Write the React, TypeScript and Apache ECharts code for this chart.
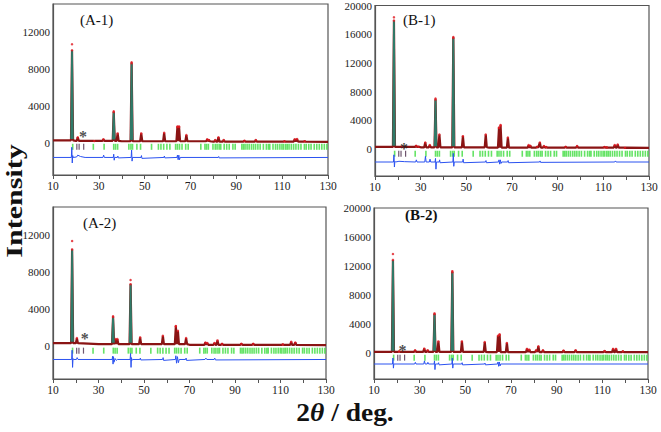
import React, { useEffect, useRef } from "react";
import * as echarts from "echarts";

// ---------- data ----------
const xTickLabels = [10, 30, 50, 70, 90, 110, 130];
const yTicksA = [0, 4000, 8000, 12000];
const yTicksB = [0, 4000, 8000, 12000, 16000, 20000];

const braggPositions = [
  18.6, 27.6, 32.3, 36.5, 37.3, 38.2, 43.1, 44.0, 44.7, 46.6, 48.2, 53.0, 56.0, 57.1, 58.3, 59.7,
  61.0, 63.5, 64.3, 65.2, 66.3, 67.9, 69.0, 74.5, 76.3, 77.0, 77.8, 79.8, 80.8, 81.6, 82.5, 83.2,
  84.7, 85.8, 86.9, 88.5, 89.5, 92.4, 93.1, 93.8, 94.7, 95.6, 96.6, 97.5, 98.4, 99.4, 100.4, 101.8,
  103.1, 104.0, 104.6, 106.0, 107.1, 108.0, 109.0, 109.9, 110.6, 111.5, 112.2, 113.0, 114.0, 115.0,
  116.0, 117.1, 118.2, 119.7, 120.5, 121.6, 122.6, 124.0, 125.1, 126.2, 127.3, 128.4, 129.5,
];
const impurityPositions = [20.4, 21.4, 23.4];

// (A-1)
const bgA1: [number, number][] = [[10, 250], [20, 200], [40, 150], [80, 110], [130, 80]];
const calcA1: [number, number][] = [
  [18.3, 10000], [20.8, 570], [28.0, 180], [32.0, 360], [36.5, 3320], [38.2, 1000], [44.3, 8600],
  [48.5, 1000], [58.5, 1070], [64.3, 1700], [65.0, 1700], [68.2, 820], [77.3, 360], [78.0, 290],
  [80.8, 280], [82.2, 570], [84.5, 280], [93.5, 210], [98.5, 280], [111.0, 150], [115.5, 360],
  [116.5, 390], [119.8, 150],
];
const obsA1: [number, number][] = [[18.3, 10650], [36.5, 3400], [44.3, 8700], [64.3, 1750], [65.0, 1750]];
const diffA1: [number, number][] = [
  [10, -1600], [18.0, -1600], [18.2, -500], [18.4, -2200], [18.6, -1400], [18.8, -1600], [20.3, -1550],
  [20.8, -1350], [22, -1500], [24, -1600], [31.8, -1600], [32.1, -1350], [32.4, -1600], [36.3, -1600],
  [36.5, -1250], [36.7, -1900], [36.9, -1600], [38.1, -1600], [38.3, -1450], [38.5, -1650], [44.1, -1600],
  [44.3, -800], [44.5, -2000], [44.7, -1600], [48.4, -1600], [48.6, -1400], [48.8, -1700], [58.4, -1600],
  [58.6, -1450], [58.8, -1650], [64.1, -1600], [64.3, -1350], [64.6, -1850], [64.9, -1350], [65.2, -1850],
  [65.5, -1600], [82.1, -1600], [82.3, -1500], [82.5, -1650], [130, -1600],
];
const starA1: [number, number] = [23.1, 1080];

// (B-1)
const bgB1: [number, number][] = [[10, 300], [30, 250], [60, 200], [130, 170]];
const calcB1: [number, number][] = [
  [18.3, 17900], [22.0, 330], [28.0, 460], [29.0, 320], [32.0, 920], [34.0, 550], [36.5, 6900],
  [38.2, 2020], [44.3, 15500], [48.5, 1800], [58.5, 2020], [64.3, 2940], [65.0, 3270], [68.2, 1600],
  [77.3, 550], [78.0, 460], [81.0, 320], [82.2, 920], [84.0, 410], [85.0, 280], [93.5, 320], [98.5, 410],
  [110.5, 280], [111.5, 230], [115.0, 550], [116.3, 640], [119.5, 180],
];
const obsB1: [number, number][] = [[18.3, 18350], [36.5, 7050], [44.3, 15600], [64.3, 3000], [65.0, 3350]];
const diffB1: [number, number][] = [
  [10, -1800], [18.1, -1800], [18.3, -800], [18.5, -2500], [18.7, -1700], [19, -1800], [20.5, -1700],
  [23, -1750], [27.8, -1800], [28.1, -1500], [28.4, -1800], [31.8, -1800], [32.1, -1000], [32.4, -1800],
  [33.8, -1800], [34.1, -1400], [34.4, -1800], [36.3, -1800], [36.5, -1300], [36.7, -2800], [36.9, -1800],
  [38.1, -1800], [38.3, -1500], [38.5, -1900], [44.1, -1800], [44.3, -600], [44.5, -2400], [44.7, -1800],
  [48.4, -1800], [48.6, -1400], [48.8, -1900], [58.4, -1800], [58.6, -1600], [58.8, -1900], [64.1, -1800],
  [64.3, -1500], [64.6, -2100], [64.9, -1500], [65.2, -2000], [65.5, -1800], [68.1, -1800], [68.3, -1600],
  [68.5, -1900], [82.1, -1800], [82.3, -1650], [82.5, -1850], [115, -1800], [115.3, -1650], [115.6, -1800],
  [130, -1800],
];
const starB1: [number, number] = [22.7, 700];

// (A-2)
const bgA2: [number, number][] = [[10, 350], [30, 250], [70, 180], [130, 150]];
const calcA2: [number, number][] = [
  [18.4, 10440], [20.5, 900], [36.4, 3170], [37.6, 790], [38.3, 790], [44.1, 6700], [48.3, 970],
  [58.3, 1150], [64.0, 2160], [64.9, 1690], [68.5, 900], [77.0, 430], [77.8, 360], [81.0, 360],
  [82.3, 650], [84.3, 290], [92.8, 290], [98.0, 290], [111.0, 220], [114.7, 500], [116.5, 430],
];
const obsA2: [number, number][] = [[18.4, 11340], [36.4, 3240], [44.1, 7150], [64.0, 2200]];
const diffA2: [number, number][] = [
  [10, -1400], [18.2, -1400], [18.4, -400], [18.6, -2250], [18.8, -1300], [19, -1400], [20.3, -1400],
  [20.6, -1200], [21, -1400], [36.0, -1400], [36.2, -1050], [36.4, -1900], [36.6, -1100], [36.8, -1700],
  [37.3, -1300], [37.8, -1500], [38.3, -1400], [43.9, -1400], [44.1, -750], [44.3, -2250], [44.5, -1200],
  [44.7, -1500], [45, -1400], [48.2, -1400], [48.4, -1250], [48.6, -1450], [58.2, -1400], [58.4, -1200],
  [58.6, -1500], [63.8, -1400], [64.0, -1000], [64.3, -1800], [64.7, -1100], [65.1, -1750], [65.5, -1400],
  [68.3, -1400], [68.5, -1250], [68.7, -1500], [76.8, -1400], [77.2, -1250], [77.6, -1400], [80.8, -1400],
  [81.1, -1250], [81.4, -1450], [130, -1400],
];
const starA2: [number, number] = [24.0, 1290];

// (B-2)
const bgB2: [number, number][] = [[10, 150], [60, 120], [130, 100]];
const calcB2: [number, number][] = [
  [18.3, 12830], [21.0, 200], [28.0, 360], [32.0, 590], [33.5, 360], [36.5, 5370], [38.2, 1590],
  [44.3, 11150], [48.5, 1590], [58.5, 1500], [64.3, 2370], [65.0, 2500], [68.2, 1370], [77.0, 550],
  [78.0, 450], [81.0, 360], [82.0, 910], [84.0, 360], [93.0, 320], [98.3, 360], [111.0, 270],
  [114.7, 550], [116.0, 550], [119.0, 230],
];
const obsB2: [number, number][] = [[18.3, 13650], [36.5, 5450], [44.3, 11280], [65.0, 2550]];
const diffB2: [number, number][] = [
  [10, -1530], [18.1, -1530], [18.3, -700], [18.5, -2100], [18.7, -1500], [19, -1530], [27.8, -1530],
  [28.1, -1300], [28.4, -1530], [31.8, -1530], [32.1, -1100], [32.4, -1530], [33.3, -1530], [33.6, -1300],
  [33.9, -1530], [36.3, -1530], [36.5, -1100], [36.7, -2300], [36.9, -1530], [38.1, -1530], [38.3, -1350],
  [38.5, -1650], [44.1, -1530], [44.3, -700], [44.5, -2100], [44.7, -1530], [48.4, -1530], [48.6, -1350],
  [48.8, -1650], [58.4, -1530], [58.6, -1400], [58.8, -1650], [64.1, -1530], [64.3, -1250], [64.6, -1850],
  [64.9, -1250], [65.2, -1800], [65.5, -1530], [130, -1530],
];
const starB2: [number, number] = [22.5, 830];

// ---------- helpers ----------
const SERIF = "Liberation Serif";
const HALF_W = 0.45;
const RED = "#8a1414";
const TEAL = "#2f7a68";

function bgAt(bg: [number, number][], x: number): number {
  let v = bg[0][1];
  for (const p of bg) if (p[0] <= x) v = p[1];
  return v;
}

function profile(bg: [number, number][], peaks: [number, number][]): [number, number][] {
  const pts: [number, number][] = [...bg];
  for (const [pos, h] of peaks) {
    const b = bgAt(bg, pos);
    pts.push([pos - HALF_W, b], [pos, h], [pos + HALF_W, b]);
  }
  return pts.sort((a, b) => a[0] - b[0]);
}

// the tall peaks only, drawn again in teal (separated by gaps)
function tallPeaks(bg: [number, number][], peaks: [number, number][], threshold: number): any[] {
  const out: any[] = [];
  for (const [pos, h] of peaks) {
    if (h < threshold) continue;
    const b = bgAt(bg, pos);
    out.push([pos - HALF_W * 0.8, b + 150], [pos, h], [pos + HALF_W * 0.8, b + 150], "-");
  }
  return out;
}

type Panel = {
  label: string;
  bold: boolean;
  labelPos: [number, number];
  grid: { left: number; top: number; width: number; height: number };
  yMin: number;
  yMax: number;
  yStep: number;
  yTicks: number[];
  bg: [number, number][];
  calc: [number, number][];
  obs: [number, number][];
  diff: [number, number][];
  star: [number, number];
  tickY: number;
  tealAbove: number;
};

const panels: Panel[] = [
  { label: "(A-1)", bold: false, labelPos: [80, 20], grid: { left: 53, top: 4, width: 275, height: 171 },
    yMin: -3500, yMax: 15000, yStep: 500, yTicks: yTicksA, bg: bgA1, calc: calcA1, obs: obsA1, diff: diffA1,
    star: starA1, tickY: -450, tealAbove: 3000 },
  { label: "(B-1)", bold: false, labelPos: [403, 20], grid: { left: 375, top: 5, width: 274, height: 171 },
    yMin: -3750, yMax: 20000, yStep: 250, yTicks: yTicksB, bg: bgB1, calc: calcB1, obs: obsB1, diff: diffB1,
    star: starB1, tickY: -650, tealAbove: 5000 },
  { label: "(A-2)", bold: false, labelPos: [83, 223], grid: { left: 53, top: 207, width: 273, height: 172 },
    yMin: -3500, yMax: 15000, yStep: 500, yTicks: yTicksA, bg: bgA2, calc: calcA2, obs: obsA2, diff: diffA2,
    star: starA2, tickY: -450, tealAbove: 3000 },
  { label: "(B-2)", bold: true, labelPos: [405, 215], grid: { left: 374, top: 208, width: 274, height: 171 },
    yMin: -3600, yMax: 20000, yStep: 400, yTicks: yTicksB, bg: bgB2, calc: calcB2, obs: obsB2, diff: diffB2,
    star: starB2, tickY: -650, tealAbove: 5000 },
];

export default function App() {
  const ref = useRef<HTMLDivElement>(null);

  useEffect(() => {
    if (!ref.current) return;
    const chart = echarts.init(ref.current, null, { renderer: "svg" });

    const grids: any[] = [];
    const xAxes: any[] = [];
    const yAxes: any[] = [];
    const series: any[] = [];
    const graphics: any[] = [];

    panels.forEach((p, i) => {
      grids.push({ ...p.grid, show: true, borderColor: "#555", borderWidth: 1.2, backgroundColor: "#fff" });
      xAxes.push({
        type: "value", gridIndex: i, min: xTickLabels[0], max: xTickLabels[xTickLabels.length - 1], interval: 20,
        axisLine: { show: true, onZero: false, lineStyle: { color: "#555", width: 1.2 } },
        axisTick: { show: true, inside: false, length: 4, lineStyle: { color: "#555" } },
        minorTick: { show: true, splitNumber: 2, length: 4, lineStyle: { color: "#555" } },
        splitLine: { show: false },
        axisLabel: { fontFamily: SERIF, fontSize: 11.5, color: "#222", margin: 5 },
      });
      const ticks = p.yTicks;
      yAxes.push({
        type: "value", gridIndex: i, min: p.yMin, max: p.yMax, interval: p.yStep,
        axisLine: { show: true, onZero: false, lineStyle: { color: "#555", width: 1.2 } },
        axisTick: { show: false },
        splitLine: { show: false },
        axisLabel: {
          fontFamily: SERIF, fontSize: 11, color: "#222", margin: 3,
          formatter: (v: number) => (ticks.indexOf(Math.round(v)) >= 0 ? String(Math.round(v)) : ""),
        },
      });

      // calculated profile
      series.push({
        type: "line", xAxisIndex: i, yAxisIndex: i, data: profile(p.bg, p.calc),
        showSymbol: false, lineStyle: { width: 2.2, color: RED }, itemStyle: { color: RED }, z: 3,
      });
      // tall peaks drawn in teal
      series.push({
        type: "line", xAxisIndex: i, yAxisIndex: i, data: tallPeaks(p.bg, p.calc, p.tealAbove),
        connectNulls: false, showSymbol: false, lineStyle: { width: 1.8, color: TEAL }, itemStyle: { color: TEAL }, z: 4,
      });
      // observed points
      series.push({
        type: "scatter", xAxisIndex: i, yAxisIndex: i, data: [...p.obs, ...p.calc],
        symbolSize: 2.5, itemStyle: { color: "#e0161e" }, z: 5,
      });
      // difference curve
      series.push({
        type: "line", xAxisIndex: i, yAxisIndex: i, data: p.diff,
        showSymbol: false, lineStyle: { width: 1, color: "#2b52f0" }, itemStyle: { color: "#2b52f0" }, z: 3,
      });
      // Bragg positions
      series.push({
        type: "scatter", xAxisIndex: i, yAxisIndex: i,
        data: braggPositions.map((x) => [x, p.tickY]),
        symbol: "rect", symbolSize: [1.6, 6], itemStyle: { color: "#3fdc3f" }, z: 2,
      });
      series.push({
        type: "scatter", xAxisIndex: i, yAxisIndex: i,
        data: impurityPositions.map((x) => [x, p.tickY]),
        symbol: "rect", symbolSize: [1.2, 6], itemStyle: { color: "#4a2a4a" }, z: 2,
      });
      // impurity star
      series.push({
        type: "scatter", xAxisIndex: i, yAxisIndex: i, data: [p.star],
        symbolSize: 1, itemStyle: { color: "rgba(0,0,0,0)" },
        label: {
          show: true, position: "inside", formatter: "*", offset: [0, 4],
          fontFamily: SERIF, fontSize: 16, fontWeight: "bold", color: "#222",
        },
        z: 6,
      });

      graphics.push({
        type: "text", left: p.labelPos[0], top: p.labelPos[1] - 8,
        style: {
          text: p.label, fontFamily: SERIF, fontSize: 15,
          fontWeight: p.bold ? "bold" : "normal", fill: "#111",
        },
        z: 10,
      });
    });

    graphics.push({
      type: "text", x: 14, y: 201, rotation: Math.PI / 2, scaleX: 1.25,
      style: {
        text: "Intensity", fontFamily: SERIF, fontSize: 24, fontWeight: "bold", fill: "#111",
        align: "center", verticalAlign: "middle",
      },
      z: 10,
    });
    graphics.push({
      type: "text", x: 345, y: 413, scaleX: 1.1,
      style: {
        text: "{a|2}{b|θ}{a| / deg.}",
        align: "center", verticalAlign: "middle",
        rich: {
          a: { fontFamily: SERIF, fontSize: 25, fontWeight: "bold", fill: "#111" },
          b: { fontFamily: SERIF, fontSize: 25, fontWeight: "bold", fontStyle: "italic", fill: "#111" },
        },
      },
      z: 10,
    });

    chart.setOption({
      animation: false,
      backgroundColor: "#fff",
      grid: grids,
      xAxis: xAxes,
      yAxis: yAxes,
      series,
      graphic: graphics,
    });

    return () => chart.dispose();
  }, []);

  return (
    <div
      ref={ref}
      style={{ position: "fixed", left: 0, top: 0, width: 661, height: 432, background: "#fff" }}
    />
  );
}
